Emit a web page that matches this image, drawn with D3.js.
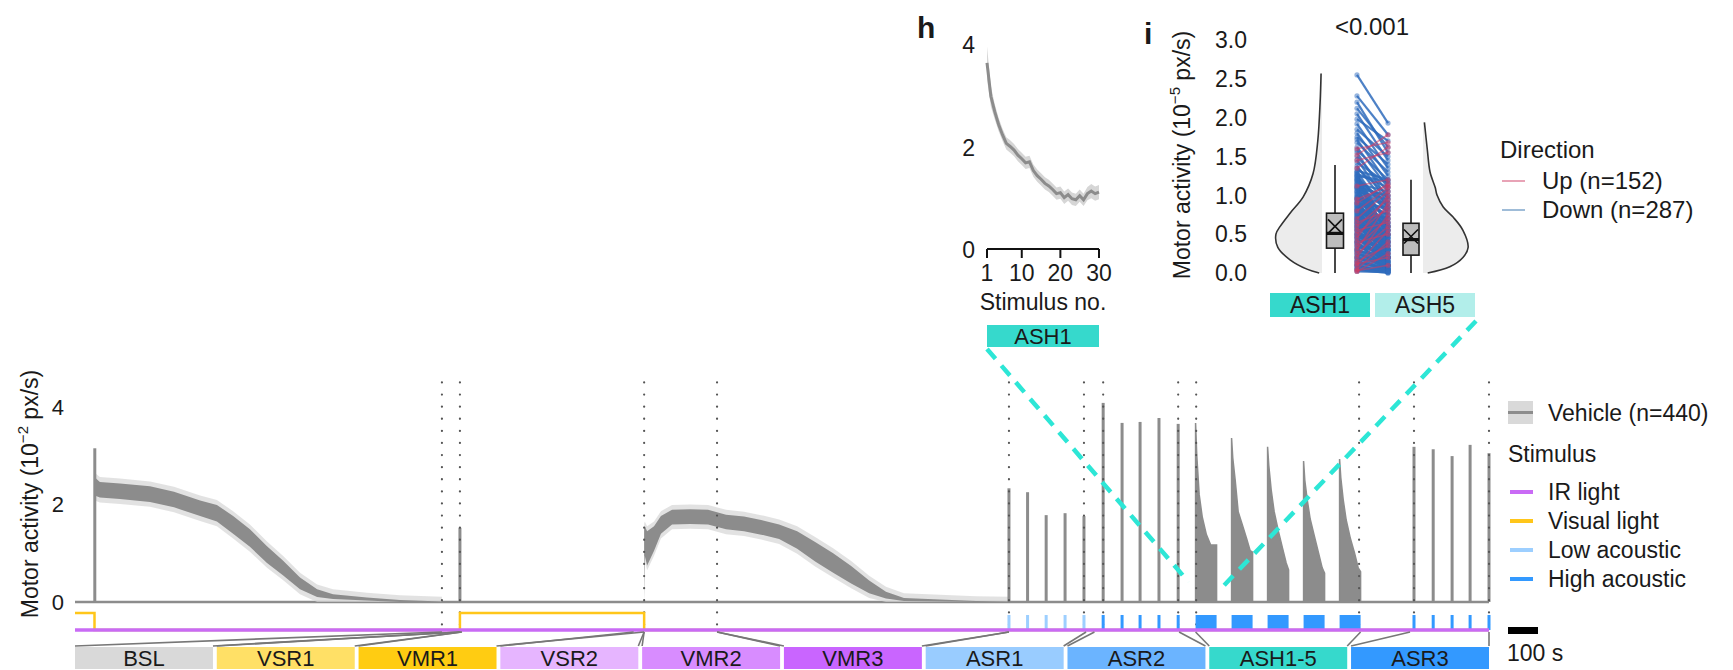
<!DOCTYPE html>
<html>
<head>
<meta charset="utf-8">
<script src="https://cdn.jsdelivr.net/npm/d3@7"></script>
<style>
  body { margin: 0; background: #fff; }
  svg { display: block; }
  text { font-family: "Liberation Sans", Arial, Helvetica, sans-serif; fill: #1a1a1a; }
</style>
</head>
<body>
<svg id="chart" width="1733" height="670"></svg>
<script>
// ---------------- Main trace data (time in s, activity in 10^-2 px/s) ----------------
const totalTime = 4713;

// long dark-adaptation decay after the first light switch
const acclimT    = [67, 70, 83, 150, 250, 330, 417, 473, 527, 583, 640, 693, 750, 807, 860, 973, 1083, 1223];
const acclimMean = [2.5, 2.35, 2.3, 2.27, 2.21, 2.1, 1.92, 1.82, 1.58, 1.31, 0.97, 0.7, 0.38, 0.18, 0.11, 0.06, 0.02, 0];
const acclimHalf = [0.25, 0.18, 0.16, 0.16, 0.16, 0.16, 0.16, 0.17, 0.18, 0.18, 0.17, 0.15, 0.12, 0.08, 0.05, 0.03, 0.02, 0.01];

// visual motor response after light off
const vmrT    = [1897, 1899, 1907, 1930, 1953, 1990, 2050, 2110, 2170, 2230, 2287, 2347, 2407, 2467, 2527, 2587, 2647, 2703, 2763, 2883, 3003, 3113];
const vmrMean = [0.75, 1.25, 1.1, 1.3, 1.58, 1.74, 1.75, 1.74, 1.64, 1.6, 1.53, 1.44, 1.27, 1.03, 0.8, 0.56, 0.31, 0.14, 0.05, 0.03, 0.01, 0];
const vmrHalf = [0.75, 0.3, 0.35, 0.25, 0.18, 0.15, 0.15, 0.15, 0.15, 0.15, 0.15, 0.15, 0.18, 0.2, 0.2, 0.18, 0.13, 0.07, 0.03, 0.02, 0.01, 0.01];

// single responses (startles)
const startleT = [66, 1283];
const startleV = [3.15, 1.52];
const asr1T = [3113, 3175, 3237, 3300, 3363];
const asr1V = [2.33, 2.25, 1.78, 1.82, 1.76];
const asr2T = [3427, 3490, 3550, 3613, 3677];
const asr2V = [4.08, 3.67, 3.69, 3.77, 3.65];
const asr3T = [4463, 4527, 4590, 4650, 4713];
const asr3V = [3.18, 3.13, 2.99, 3.22, 3.05];

// habituation blocks: envelope of the response within each 70 s block
const ashStarts = [3735, 3855, 3975, 4095, 4215];
const ashDuration = 70;
const ashOffsets = [0, 4, 12, 22, 36, 50, 62, 70];
const ash1Env = [3.67, 3.0, 2.2, 1.75, 1.38, 1.17, 1.17, 1.17];
const ash2Env = [3.36, 2.95, 2.5, 1.85, 1.58, 1.3, 1.05, 1.02];
const ash3Env = [3.18, 2.8, 2.3, 1.85, 1.45, 1.1, 0.8, 0.66];
const ash4Env = [2.89, 2.5, 2.1, 1.7, 1.35, 1.0, 0.7, 0.59];
const ash5Env = [2.93, 2.55, 2.1, 1.68, 1.3, 1.0, 0.7, 0.62];

// phase boundaries marked by dotted lines
const eventT = [1223, 1283, 1897, 2140, 3113, 3363, 3427, 3677, 3737, 4280, 4463, 4713];

// stimuli
const visualLightOn = [[0, 65], [1283, 1897]];
const lowAcousticT = asr1T;
const highAcousticT = asr2T.concat(asr3T);

// protocol phases
const phaseNames  = ["BSL", "VSR1", "VMR1", "VSR2", "VMR2", "VMR3", "ASR1", "ASR2", "ASH1-5", "ASR3"];
const phaseStart  = [1223, 1283, 1290, 1862, 1897, 2140, 3113, 3398, 3735, 4450];
const phaseEnd    = [1283, 1288, 1897, 1897, 2140, 3113, 3370, 3680, 4285, 4713];
const phaseColors = ["#d9d9d9", "#ffe066", "#ffcc12", "#e6b5ff", "#d88cff", "#c965ff", "#99ccff", "#6bb4ff", "#36d9cc", "#3399ff"];

const stimNames  = ["IR light", "Visual light", "Low acoustic", "High acoustic"];
const stimColors = ["#c96bf5", "#ffc61a", "#9dcfff", "#3399ff"];

// ---------------- Inset h: ASH1 response per stimulus ----------------
const hStim = d3.range(1, 31);
const hMean = [3.65, 3.0, 2.7, 2.45, 2.25, 2.08, 2.02, 1.95, 1.85, 1.78, 1.7, 1.72, 1.55, 1.45, 1.38,
               1.3, 1.25, 1.18, 1.1, 1.12, 1.02, 1.08, 1.0, 0.98, 1.06, 0.98, 1.1, 1.15, 1.1, 1.13];
const hSE   = [0.32, 0.2, 0.15, 0.13, 0.12, 0.12, 0.12, 0.12, 0.12, 0.12, 0.12, 0.12, 0.12, 0.12, 0.12,
               0.12, 0.12, 0.12, 0.12, 0.12, 0.12, 0.12, 0.12, 0.12, 0.12, 0.12, 0.13, 0.14, 0.14, 0.14];
const hTicks = [1, 10, 20, 30];

// ---------------- Inset i: ASH1 vs ASH5 per larva (10^-5 px/s) ----------------
const ash1Violin = [[0, 0.06], [0.05, 0.32], [0.17, 0.68], [0.33, 0.94], [0.5, 0.98], [0.6, 0.89], [0.77, 0.68],
                    [0.98, 0.4], [1.28, 0.19], [1.7, 0.09], [2.2, 0.04], [2.57, 0.02]];
const ash5Violin = [[0, 0.1], [0.08, 0.57], [0.2, 0.85], [0.33, 0.96], [0.55, 0.85], [0.72, 0.64], [0.85, 0.43],
                    [1.0, 0.3], [1.1, 0.26], [1.3, 0.15], [1.6, 0.09], [1.94, 0.03]];
const ash1Box = { lo: 0, q1: 0.32, med: 0.51, q3: 0.77, hi: 1.39, mean: 0.6 };
const ash5Box = { lo: 0, q1: 0.23, med: 0.43, q3: 0.64, hi: 1.2, mean: 0.47 };
const downPairs = [[2.55,1.93],[2.28,1.78],[2.2,1.55],[2.12,1.62],[2.05,1.45],[1.98,1.7],[1.92,1.35],[1.85,1.5],
  [1.8,1.25],[1.75,1.4],[1.72,1.15],[1.68,1.3],[1.62,1.1],[1.58,1.2],[1.55,0.95],[1.5,1.05],[1.46,0.9],[1.42,1.15],
  [1.38,0.85],[1.35,1.0],[1.3,0.75],[1.28,1.1],[1.25,0.6],[1.2,0.9],[1.18,0.5],[1.15,1.05],[1.1,0.7],[1.08,0.4],
  [1.05,0.95],[1.02,0.55],[0.98,0.8],[0.95,0.3],[0.92,0.65],[0.9,0.45],[0.88,0.85],[0.85,0.2],[0.82,0.6],[0.8,0.35],
  [0.78,0.7],[0.75,0.15],[0.72,0.5],[0.7,0.25],[0.68,0.55],[0.65,0.1],[0.62,0.4],[0.6,0.3],[0.58,0.45],[0.55,0.05],
  [0.52,0.35],[0.5,0.2],[0.48,0.4],[0.45,0.12],[0.42,0.3],[0.4,0.02],[0.38,0.25],[0.35,0.15],[0.32,0.28],[0.3,0.05],
  [0.28,0.2],[0.25,0.1],[0.22,0.15],[0.2,0.02],[0.18,0.1],[0.15,0.05],[0.12,0.08],[0.1,0.0],[0.08,0.03],[0.05,0.01],
  [1.25,1.18],[1.12,0.98],[0.97,0.75],[0.86,0.62],[0.74,0.58],[0.63,0.48],[1.32,1.2],[1.22,0.82],
  [1.3,0.2],[1.27,0.45],[1.24,0.85],[1.21,0.3],[1.19,0.65],[1.16,0.15],[1.14,0.8],[1.11,0.35],[1.09,1.0],[1.06,0.25],
  [1.04,0.6],[1.01,0.1],[0.99,0.5],[0.96,0.9],[0.94,0.2],[0.91,0.75],[0.89,0.05],[0.87,0.4],[0.84,0.7],[0.83,0.25],
  [0.81,0.55],[0.79,0.1],[0.77,0.45],[0.76,0.65],[0.73,0.3],[0.71,0.6],[0.69,0.05],[0.67,0.35],[0.66,0.5],[0.64,0.2],
  [0.61,0.55],[0.59,0.12],[0.57,0.38],[0.56,0.48],[0.54,0.22],[0.51,0.42],[0.49,0.08],[0.47,0.3],[0.46,0.4],[0.44,0.18],
  [0.41,0.33],[0.39,0.06],[0.37,0.2],[0.34,0.3],[0.31,0.12],[0.29,0.22],[0.27,0.04],[0.24,0.18],[0.21,0.08],[0.19,0.14],
  [0.16,0.02],[0.14,0.09],[0.11,0.05],[0.09,0.02],[0.06,0.03],[0.04,0.0],[0.02,0.01]];
const upPairs = [[1.52,1.78],[1.6,1.68],[1.35,1.62],[1.45,1.55],[1.12,1.2],[0.95,1.12],[0.3,0.9],[0.45,1.0],
  [0.2,0.75],[0.6,0.95],[0.1,0.55],[0.35,0.7],[0.05,0.4],[0.5,0.85],[0.15,0.35],[0.7,1.05],[0.25,0.6],[0.4,0.5],
  [0.02,0.25],[0.8,1.1],[0.55,0.65],[0.12,0.2],[0.65,0.8],[0.03,0.1],[0.9,1.15]];
const iTicks = [0, 0.5, 1, 1.5, 2, 2.5, 3];

// ======================================================================
const svg = d3.select("#chart");
svg.append("rect").attr("width", 1733).attr("height", 670).attr("fill", "#fff");

const GRAY = "#8c8c8c";
const x = d3.scaleLinear().domain([0, totalTime]).range([75, 1489]);
const y = d3.scaleLinear().domain([0, 4.5]).range([602, 382.4]);

const yStimOn = 613, yStimBase = 630, yBarTop = 647, yBarBot = 669;

// y axis labels
svg.append("g").selectAll("text").data([0, 2, 4]).join("text")
  .attr("x", 64).attr("y", d => y(d)).attr("dy", "0.36em")
  .attr("text-anchor", "end").attr("font-size", 22).text(d => d);

const yt = svg.append("text").attr("transform", "translate(38,494) rotate(-90)")
  .attr("text-anchor", "middle").attr("font-size", 23);
yt.append("tspan").text("Motor activity (10");
yt.append("tspan").attr("font-size", 15).attr("dy", -10).text("\u22122");
yt.append("tspan").attr("dy", 10).text(" px/s)");

// baseline trace
svg.append("line").attr("x1", x(0)).attr("x2", x(totalTime)).attr("y1", y(0)).attr("y2", y(0))
  .attr("stroke", GRAY).attr("stroke-width", 2.5);

// noisy segments: SE ribbon + core band
function bandSegment(ts, ms, hs) {
  const pts = ts.map((t, i) => ({ t, m: ms[i], h: hs[i] }));
  const se = d3.area().x(d => x(d.t))
    .y0(d => y(Math.max(0, d.m - d.h - 0.1))).y1(d => y(d.m + d.h + 0.1));
  const core = d3.area().x(d => x(d.t))
    .y0(d => y(Math.max(0, d.m - d.h))).y1(d => y(d.m + d.h));
  svg.append("path").datum(pts).attr("d", se).attr("fill", "#d6d6d6").attr("opacity", 0.7);
  svg.append("path").datum(pts).attr("d", core).attr("fill", GRAY);
}
bandSegment(acclimT, acclimMean, acclimHalf);
bandSegment(vmrT, vmrMean, vmrHalf);

// spikes
const spikes = [];
[[startleT, startleV], [asr1T, asr1V], [asr2T, asr2V], [asr3T, asr3V]].forEach(([ts, vs]) =>
  ts.forEach((t, i) => spikes.push({ t, v: vs[i] })));
svg.append("g").selectAll("line").data(spikes).join("line")
  .attr("x1", d => x(d.t)).attr("x2", d => x(d.t))
  .attr("y1", y(0)).attr("y2", d => y(d.v))
  .attr("stroke", GRAY).attr("stroke-width", 3);

// habituation blocks
const ashEnv = [ash1Env, ash2Env, ash3Env, ash4Env, ash5Env];
const ashArea = d3.area().x(d => x(d.t)).y0(y(0)).y1(d => y(d.v));
ashEnv.forEach((vals, b) => {
  const pts = ashOffsets.map((o, i) => ({ t: ashStarts[b] + o, v: vals[i] }));
  svg.append("path").datum(pts).attr("d", ashArea).attr("fill", GRAY)
    .attr("stroke", GRAY).attr("stroke-width", 1.5);
});

// dotted event lines
svg.append("g").selectAll("line").data(eventT).join("line")
  .attr("x1", d => x(d)).attr("x2", d => x(d))
  .attr("y1", y(4.5)).attr("y2", yStimBase - 2)
  .attr("stroke", "#555").attr("stroke-width", 2.2)
  .attr("stroke-linecap", "round").attr("stroke-dasharray", "0.1 12");

// visual light step trace
const lightPts = [];
visualLightOn.forEach(([a, b]) => { lightPts.push({ t: a, on: 1 }); lightPts.push({ t: b, on: 0 }); });
lightPts.push({ t: totalTime, on: 0 });
if (lightPts[0].t > 0) lightPts.unshift({ t: 0, on: 0 });
svg.append("path").datum(lightPts)
  .attr("d", d3.line().x(d => x(d.t)).y(d => d.on ? yStimOn : yStimBase).curve(d3.curveStepAfter))
  .attr("fill", "none").attr("stroke", stimColors[1]).attr("stroke-width", 2.5);

// acoustic stimuli
svg.append("g").selectAll("rect").data(lowAcousticT).join("rect")
  .attr("x", d => x(d) - 1.5).attr("width", 3).attr("y", yStimOn + 2).attr("height", yStimBase - yStimOn - 2)
  .attr("fill", stimColors[2]);
svg.append("g").selectAll("rect").data(highAcousticT).join("rect")
  .attr("x", d => x(d) - 1.5).attr("width", 3).attr("y", yStimOn + 2).attr("height", yStimBase - yStimOn - 2)
  .attr("fill", stimColors[3]);
svg.append("g").selectAll("rect").data(ashStarts).join("rect")
  .attr("x", d => x(d)).attr("width", d => x(d + ashDuration) - x(d))
  .attr("y", yStimOn + 2).attr("height", yStimBase - yStimOn - 2)
  .attr("fill", stimColors[3]);

// IR light (always on)
svg.append("line").attr("x1", x(0)).attr("x2", x(totalTime)).attr("y1", yStimBase).attr("y2", yStimBase)
  .attr("stroke", stimColors[0]).attr("stroke-width", 3.5);

// phase bars + connectors
const band = d3.scaleBand().domain(phaseNames).range([75, 1489]).paddingInner(0.027);
const phases = phaseNames.map((n, i) => ({ n, s: phaseStart[i], e: phaseEnd[i], c: phaseColors[i] }));
const conn = svg.append("g").attr("stroke", "#777").attr("stroke-width", 1.6);
phases.forEach(p => {
  conn.append("line").attr("x1", band(p.n)).attr("y1", yBarTop - 1).attr("x2", x(p.s)).attr("y2", yStimBase + 2);
  conn.append("line").attr("x1", band(p.n) + band.bandwidth()).attr("y1", yBarTop - 1).attr("x2", x(p.e)).attr("y2", yStimBase + 2);
});
const pg = svg.append("g").selectAll("g").data(phases).join("g");
pg.append("rect").attr("x", d => band(d.n)).attr("width", band.bandwidth())
  .attr("y", yBarTop).attr("height", yBarBot - yBarTop).attr("fill", d => d.c);
pg.append("text").attr("x", d => band(d.n) + band.bandwidth() / 2).attr("y", 666)
  .attr("text-anchor", "middle").attr("font-size", 22).text(d => d.n);

// legend
const lg = svg.append("g");
lg.append("rect").attr("x", 1508).attr("y", 401).attr("width", 25).attr("height", 23).attr("fill", "#d9d9d9");
lg.append("line").attr("x1", 1508).attr("x2", 1533).attr("y1", 412.5).attr("y2", 412.5).attr("stroke", GRAY).attr("stroke-width", 3);
lg.append("text").attr("x", 1548).attr("y", 421).attr("font-size", 23).text("Vehicle (n=440)");
lg.append("text").attr("x", 1508).attr("y", 462).attr("font-size", 23).text("Stimulus");
stimNames.forEach((n, i) => {
  const yy = 492 + i * 29;
  lg.append("line").attr("x1", 1510).attr("x2", 1533).attr("y1", yy).attr("y2", yy)
    .attr("stroke", stimColors[i]).attr("stroke-width", 4);
  lg.append("text").attr("x", 1548).attr("y", yy + 8).attr("font-size", 23).text(n);
});
// 100 s scale bar
lg.append("rect").attr("x", 1508).attr("y", 627).attr("width", x(100) - x(0)).attr("height", 7).attr("fill", "#000");
lg.append("text").attr("x", 1507).attr("y", 661).attr("font-size", 23).text("100 s");

// ---------------- Inset h ----------------
const hx = d3.scaleLinear().domain([1, 30]).range([987, 1099]);
const hy = d3.scaleLinear().domain([0, 4]).range([250, 45]);
const hg = svg.append("g");
hg.append("text").attr("x", 917).attr("y", 38).attr("font-size", 30).attr("font-weight", "bold").text("h");
hg.selectAll(".hyt").data([0, 2, 4]).join("text")
  .attr("x", 975).attr("y", d => hy(d)).attr("dy", "0.36em").attr("text-anchor", "end")
  .attr("font-size", 23).text(d => d);
const hPts = hStim.map((s, i) => ({ s, m: hMean[i], e: hSE[i] }));
hg.append("path").datum(hPts)
  .attr("d", d3.area().x(d => hx(d.s)).y0(d => hy(d.m - d.e)).y1(d => hy(d.m + d.e)))
  .attr("fill", "#d6d6d6");
hg.append("path").datum(hPts)
  .attr("d", d3.line().x(d => hx(d.s)).y(d => hy(d.m)))
  .attr("fill", "none").attr("stroke", GRAY).attr("stroke-width", 3);
hg.append("line").attr("x1", hx(1)).attr("x2", hx(30)).attr("y1", 249).attr("y2", 249)
  .attr("stroke", "#111").attr("stroke-width", 2);
hg.selectAll(".hxt").data(hTicks).join("line")
  .attr("x1", d => hx(d)).attr("x2", d => hx(d)).attr("y1", 249).attr("y2", 258)
  .attr("stroke", "#111").attr("stroke-width", 2);
hg.selectAll(".hxl").data(hTicks).join("text")
  .attr("x", d => hx(d)).attr("y", 281).attr("text-anchor", "middle").attr("font-size", 23).text(d => d);
hg.append("text").attr("x", 1043).attr("y", 310).attr("text-anchor", "middle").attr("font-size", 23).text("Stimulus no.");
hg.append("rect").attr("x", 987).attr("y", 325).attr("width", 112).attr("height", 22).attr("fill", phaseColors[8]);
hg.append("text").attr("x", 1043).attr("y", 344).attr("text-anchor", "middle").attr("font-size", 22).text("ASH1");

// ---------------- Inset i ----------------
const iy = d3.scaleLinear().domain([0, 3]).range([273, 40]);
const ig = svg.append("g");
ig.append("text").attr("x", 1144).attr("y", 44).attr("font-size", 30).attr("font-weight", "bold").text("i");
const it = ig.append("text").attr("transform", "translate(1190,155) rotate(-90)")
  .attr("text-anchor", "middle").attr("font-size", 23);
it.append("tspan").text("Motor activity (10");
it.append("tspan").attr("font-size", 15).attr("dy", -10).text("\u22125");
it.append("tspan").attr("dy", 10).text(" px/s)");
ig.selectAll(".iyt").data(iTicks).join("text")
  .attr("x", 1247).attr("y", d => iy(d)).attr("dy", "0.36em").attr("text-anchor", "end")
  .attr("font-size", 23).text(d => d3.format(".1f")(d));
ig.append("text").attr("x", 1372).attr("y", 35).attr("text-anchor", "middle").attr("font-size", 24).text("<0.001");

const violinW = 47;
function halfViolin(dens, edge, dir) {
  const pts = dens.map(([v, w]) => [edge + dir * w * violinW, iy(v)]);
  const top = dens[dens.length - 1][0], bot = dens[0][0];
  const fillPts = [[edge, iy(bot)]].concat(pts).concat([[edge, iy(top)]]);
  ig.append("path").attr("d", d3.line().curve(d3.curveLinear)(fillPts)).attr("fill", "#ececec");
  ig.append("path").attr("d", d3.line().curve(d3.curveCatmullRom)(pts))
    .attr("fill", "none").attr("stroke", "#333").attr("stroke-width", 1.6);
}
halfViolin(ash1Violin, 1322, -1);
halfViolin(ash5Violin, 1423, 1);

function boxPlot(b, cx, w) {
  ig.append("line").attr("x1", cx).attr("x2", cx).attr("y1", iy(b.lo)).attr("y2", iy(b.hi))
    .attr("stroke", "#1a1a1a").attr("stroke-width", 1.6);
  ig.append("rect").attr("x", cx - w / 2).attr("width", w).attr("y", iy(b.q3)).attr("height", iy(b.q1) - iy(b.q3))
    .attr("fill", "#bdbdbd").attr("stroke", "#1a1a1a").attr("stroke-width", 1.6);
  ig.append("line").attr("x1", cx - w / 2).attr("x2", cx + w / 2).attr("y1", iy(b.med)).attr("y2", iy(b.med))
    .attr("stroke", "#111").attr("stroke-width", 3.2);
  const s = 7;
  ig.append("path").attr("d", `M${cx - s},${iy(b.mean) - s}L${cx + s},${iy(b.mean) + s}M${cx - s},${iy(b.mean) + s}L${cx + s},${iy(b.mean) - s}`)
    .attr("stroke", "#111").attr("stroke-width", 1.6);
}
boxPlot(ash1Box, 1335, 17);
boxPlot(ash5Box, 1411, 16);

// paired values per larva
const xA = 1357, xB = 1388;
const BLUE = "#2f6cbd", RED = "#d23a62";
function pairs(data, col, op, sw) {
  const g = ig.append("g");
  g.selectAll("line").data(data).join("line")
    .attr("x1", xA).attr("x2", xB).attr("y1", d => iy(d[0])).attr("y2", d => iy(d[1]))
    .attr("stroke", col).attr("stroke-width", sw).attr("opacity", op);
  g.selectAll(".a").data(data).join("circle").attr("class", "a")
    .attr("cx", xA).attr("cy", d => iy(d[0])).attr("r", 2.6).attr("fill", col).attr("opacity", 0.5);
  g.selectAll(".b").data(data).join("circle").attr("class", "b")
    .attr("cx", xB).attr("cy", d => iy(d[1])).attr("r", 2.6).attr("fill", col).attr("opacity", 0.5);
}
pairs(downPairs, BLUE, 0.85, 2.2);
pairs(upPairs, RED, 0.55, 1.6);

ig.append("rect").attr("x", 1270).attr("y", 293).attr("width", 100).attr("height", 24).attr("fill", phaseColors[8]);
ig.append("rect").attr("x", 1375).attr("y", 293).attr("width", 100).attr("height", 24).attr("fill", "#b2eeea");
ig.append("text").attr("x", 1320).attr("y", 313).attr("text-anchor", "middle").attr("font-size", 23).text("ASH1");
ig.append("text").attr("x", 1425).attr("y", 313).attr("text-anchor", "middle").attr("font-size", 23).text("ASH5");

// direction legend
ig.append("text").attr("x", 1500).attr("y", 158).attr("font-size", 24).text("Direction");
[["Up (n=152)", "#e8a3b6"], ["Down (n=287)", "#9fbcd8"]].forEach(([t, c], i) => {
  const yy = 181 + i * 29;
  ig.append("line").attr("x1", 1502).attr("x2", 1525).attr("y1", yy).attr("y2", yy).attr("stroke", c).attr("stroke-width", 2);
  ig.append("text").attr("x", 1542).attr("y", yy + 8).attr("font-size", 24).text(t);
});

// zoom guides from the habituation block to the insets
const guide = svg.append("g").attr("stroke", "#2de6d6").attr("stroke-width", 4.5)
  .attr("stroke-dasharray", "13 9").attr("fill", "none");
guide.append("line").attr("x1", 987).attr("y1", 349).attr("x2", x(ashStarts[0]) - 7).attr("y2", 582);
guide.append("line").attr("x1", 1476).attr("y1", 321).attr("x2", x(ashStarts[0] + ashDuration) + 4).attr("y2", 589);
</script>
</body>
</html>
